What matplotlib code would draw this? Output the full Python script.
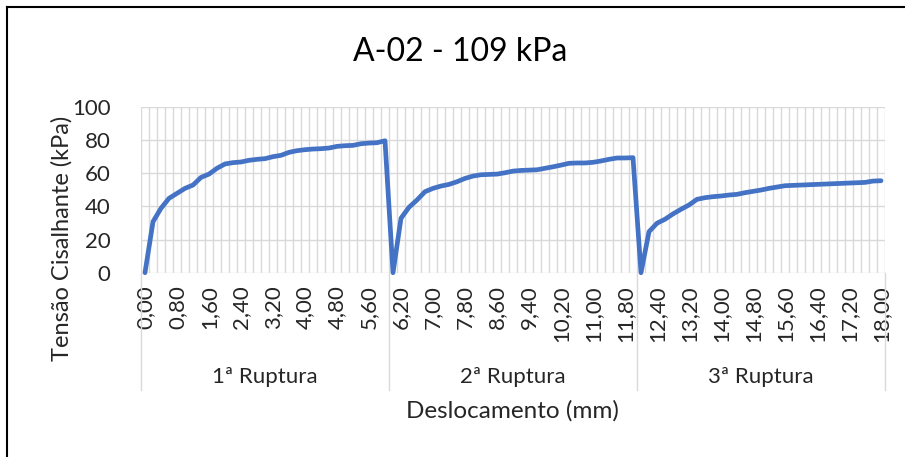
import matplotlib
matplotlib.use("Agg")
import matplotlib.pyplot as plt
import matplotlib.transforms as mtransforms
from matplotlib.lines import Line2D

plt.rcParams['font.family'] = ['Lato', 'DejaVu Sans']

# ---- data ----
groups = ["1ª Ruptura", "2ª Ruptura", "3ª Ruptura"]
x_sec1 = [0.0, 0.2, 0.4, 0.6, 0.8, 1.0, 1.2, 1.4, 1.6, 1.8, 2.0, 2.2, 2.4, 2.6, 2.8, 3.0,
          3.2, 3.4, 3.6, 3.8, 4.0, 4.2, 4.4, 4.6, 4.8, 5.0, 5.2, 5.4, 5.6, 5.8, 6.0]
x_sec2 = [6.0, 6.2, 6.4, 6.6, 6.8, 7.0, 7.2, 7.4, 7.6, 7.8, 8.0, 8.2, 8.4, 8.6, 8.8, 9.0,
          9.2, 9.4, 9.6, 9.8, 10.0, 10.2, 10.4, 10.6, 10.8, 11.0, 11.2, 11.4, 11.6, 11.8, 12.0]
x_sec3 = [12.0, 12.2, 12.4, 12.6, 12.8, 13.0, 13.2, 13.4, 13.6, 13.8, 14.0, 14.2, 14.4, 14.6,
          14.8, 15.0, 15.2, 15.4, 15.6, 15.8, 16.0, 16.2, 16.4, 16.6, 16.8, 17.0, 17.2, 17.4,
          17.6, 17.8, 18.0]
y_sec1 = [0, 30.7, 38.8, 44.8, 47.8, 50.8, 52.8, 57.4, 59.4, 62.9, 65.5, 66.3, 66.7, 67.7,
          68.3, 68.7, 69.9, 70.7, 72.5, 73.5, 74.1, 74.5, 74.7, 75.1, 76.1, 76.5, 76.7, 77.7,
          78.1, 78.3, 79.5]
y_sec2 = [0, 32.8, 39.4, 43.8, 48.8, 50.8, 52.2, 53.2, 54.8, 56.8, 58.2, 59.0, 59.2, 59.4,
          60.2, 61.2, 61.6, 61.8, 62.0, 62.9, 63.8, 64.8, 65.9, 66.1, 66.1, 66.5, 67.3, 68.3,
          69.1, 69.1, 69.3]
y_sec3 = [0, 24.7, 29.8, 32.2, 35.4, 38.2, 40.8, 44.2, 45.2, 45.8, 46.2, 46.8, 47.2, 48.2,
          49.0, 49.8, 50.8, 51.6, 52.4, 52.6, 52.8, 53.0, 53.2, 53.4, 53.6, 53.8, 54.0, 54.2,
          54.4, 55.2, 55.4]
y_ticks = [0, 20, 40, 60, 80, 100]

title = "A-02 - 109 kPa"
ylabel = "Tensão Cisalhante (kPa)"
xlabel = "Deslocamento (mm)"

# ---- build ----
sections_x = [x_sec1, x_sec2, x_sec3]
sections_y = [y_sec1, y_sec2, y_sec3]
cats = [v for s in sections_x for v in s]
vals = [v for s in sections_y for v in s]
idx = list(range(len(cats)))

txt_c = "#262626"
fig = plt.figure(figsize=(9.05, 4.57), dpi=100)
ax = fig.add_axes([141 / 905, 1 - 272.7 / 457, 744 / 905, 166 / 457])

grid_c = "#d9d9d9"
ax.set_xlim(-0.5, len(cats) - 0.5)
ax.set_ylim(0, 100)
for k in range(len(cats) + 1):
    ax.axvline(k - 0.5, color=grid_c, lw=1.0, zorder=0)
for t in y_ticks:
    ax.axhline(t, color=grid_c, lw=1.0, zorder=0)

ax.plot(idx, vals, color="#4472C4", lw=3.4, solid_joinstyle="round",
        solid_capstyle="round", zorder=3, clip_on=False)

for s in ax.spines.values():
    s.set_visible(False)
ax.set_yticks(y_ticks)
ax.set_yticklabels([str(t) for t in y_ticks], fontsize=16, color=txt_c)
ax.tick_params(axis='y', length=0, pad=22)

lab_idx = idx[::4]
ax.set_xticks(lab_idx)
ax.set_xticklabels([f"{cats[i]:.2f}".replace(".", ",") for i in lab_idx],
                   rotation=90, fontsize=16, color=txt_c, va="top", ha="center")
ax.tick_params(axis='x', length=0, pad=9)

# multi-level axis separators
trans = mtransforms.blended_transform_factory(ax.transData, ax.transAxes)
depth = -(390 - 272.7) / 166
bounds = [-0.5]
n = 0
for s in sections_x:
    n += len(s)
    bounds.append(n - 0.5)
for b in bounds:
    ax.add_line(Line2D([b, b], [0, depth], transform=trans, color=grid_c, lw=1.0,
                       clip_on=False))
for g, (a, b) in zip(groups, zip(bounds[:-1], bounds[1:])):
    ax.text((a + b) / 2, (377 - 272.7) / -166, g, transform=trans, ha="center",
            va="center", fontsize=16, color=txt_c)

fig.text(512 / 905, 1 - 411 / 457, xlabel, ha="center", va="center", fontsize=17.5,
         color=txt_c)
fig.text(62 / 905, 1 - 238 / 457, ylabel, ha="center", va="center", rotation=90,
         fontsize=17, color=txt_c)
fig.text(460 / 905, 1 - 52 / 457, title, ha="center", va="center", fontsize=23,
         color="#000000")

# chart border (left and top visible)
fig.add_artist(Line2D([7 / 905, 7 / 905], [0, 1 - 7 / 457], transform=fig.transFigure,
                      color="black", lw=1.5))
fig.add_artist(Line2D([7 / 905, 1], [1 - 7 / 457, 1 - 7 / 457], transform=fig.transFigure,
                      color="black", lw=1.5))

fig.savefig("out.png", dpi=100)
